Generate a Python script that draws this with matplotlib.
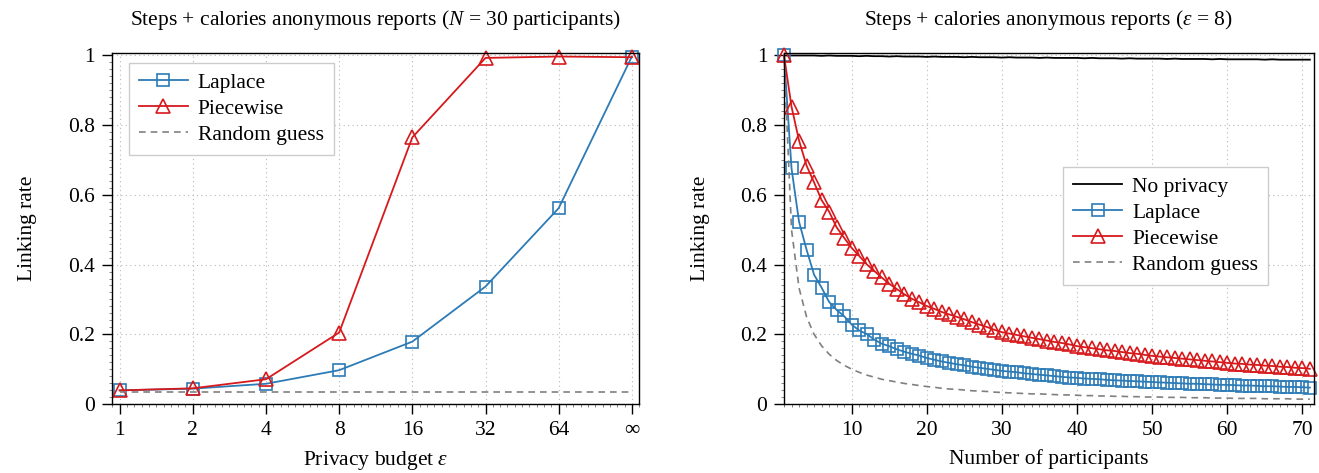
import matplotlib
matplotlib.use("Agg")
import matplotlib.pyplot as plt
from matplotlib.ticker import AutoMinorLocator, FuncFormatter, MultipleLocator

# ---------------------------------------------------------------- data
# izquierda: N = 30, presupuesto de privacidad
eps_labels = ["1", "2", "4", "8", "16", "32", "64", "∞"]
lap_eps = [0.039, 0.044, 0.058, 0.097, 0.179, 0.337, 0.562, 0.997]
pw_eps = [0.039, 0.045, 0.071, 0.205, 0.765, 0.993, 0.997, 0.995]
rand_eps = [0.0333] * 8

# derecha: eps = 8, número de participantes 1..71
n_part = list(range(1, 72))
no_priv = [1.000, 1.000, 1.000, 1.000, 1.000, 0.999, 1.000, 0.999, 0.999, 0.999,
           0.998, 0.999, 0.998, 0.998, 0.997, 0.998, 0.997, 0.997, 0.997, 0.996,
           0.997, 0.996, 0.996, 0.996, 0.995, 0.996, 0.995, 0.995, 0.995, 0.994,
           0.995, 0.994, 0.994, 0.994, 0.993, 0.994, 0.993, 0.993, 0.993, 0.993,
           0.992, 0.993, 0.992, 0.992, 0.992, 0.991, 0.992, 0.991, 0.991, 0.991,
           0.991, 0.990, 0.991, 0.990, 0.990, 0.990, 0.990, 0.989, 0.990, 0.989,
           0.989, 0.989, 0.989, 0.989, 0.988, 0.989, 0.988, 0.988, 0.988, 0.988,
           0.988]
lap_n = [1.000, 0.676, 0.523, 0.443, 0.371, 0.334, 0.293, 0.270, 0.252, 0.228,
         0.211, 0.201, 0.185, 0.173, 0.166, 0.157, 0.150, 0.144, 0.139, 0.132,
         0.127, 0.122, 0.118, 0.114, 0.111, 0.107, 0.104, 0.101, 0.098, 0.095,
         0.093, 0.091, 0.088, 0.086, 0.084, 0.082, 0.080, 0.078, 0.076, 0.075,
         0.073, 0.072, 0.071, 0.069, 0.068, 0.067, 0.066, 0.065, 0.064, 0.063,
         0.062, 0.061, 0.060, 0.059, 0.058, 0.058, 0.057, 0.056, 0.055, 0.055,
         0.054, 0.053, 0.053, 0.052, 0.051, 0.051, 0.050, 0.049, 0.049, 0.048,
         0.047]
pw_n = [1.000, 0.853, 0.756, 0.684, 0.636, 0.585, 0.552, 0.507, 0.477, 0.448,
        0.425, 0.401, 0.382, 0.363, 0.345, 0.330, 0.315, 0.302, 0.292, 0.281,
        0.273, 0.264, 0.257, 0.250, 0.243, 0.235, 0.228, 0.221, 0.213, 0.206,
        0.202, 0.198, 0.194, 0.190, 0.186, 0.182, 0.178, 0.175, 0.171, 0.166,
        0.163, 0.160, 0.157, 0.154, 0.152, 0.149, 0.146, 0.144, 0.141, 0.138,
        0.136, 0.134, 0.132, 0.130, 0.128, 0.126, 0.124, 0.122, 0.120, 0.118,
        0.116, 0.115, 0.113, 0.112, 0.110, 0.109, 0.107, 0.106, 0.104, 0.103,
        0.101]
rand_n = [1.000, 0.500, 0.333, 0.250, 0.200, 0.167, 0.143, 0.125, 0.111, 0.100,
          0.091, 0.083, 0.077, 0.071, 0.067, 0.063, 0.059, 0.056, 0.053, 0.050,
          0.048, 0.045, 0.043, 0.042, 0.040, 0.038, 0.037, 0.036, 0.034, 0.033,
          0.032, 0.031, 0.030, 0.029, 0.029, 0.028, 0.027, 0.026, 0.026, 0.025,
          0.024, 0.024, 0.023, 0.023, 0.022, 0.022, 0.021, 0.021, 0.020, 0.020,
          0.020, 0.019, 0.019, 0.019, 0.018, 0.018, 0.018, 0.017, 0.017, 0.017,
          0.016, 0.016, 0.016, 0.016, 0.015, 0.015, 0.015, 0.015, 0.014, 0.014,
          0.014]

BLUE, RED, GREY = "#2c7bb6", "#d7191c", "#808080"
FS = 15.5

plt.rcParams.update({
    "font.family": ["Liberation Serif", "DejaVu Serif"],
    "font.size": FS,
    "mathtext.fontset": "custom",
    "mathtext.rm": "Liberation Serif",
    "mathtext.it": "Liberation Serif:italic",
    "axes.linewidth": 1.0,
})

mk = dict(mfc="none", mew=1.2, lw=1.3, clip_on=False)


def style_axes(ax):
    ax.grid(True, which="major", ls=(0, (1, 3)), color="#b8b8b8", lw=0.8)
    ax.tick_params(which="major", direction="out", length=7, width=1.0,
                   top=False, right=False, labelsize=FS, pad=5)
    ax.tick_params(which="minor", direction="out", length=2, width=0.5,
                   color="#555555", top=False, right=False)
    ax.yaxis.set_major_locator(MultipleLocator(0.2))
    ax.yaxis.set_minor_locator(AutoMinorLocator(10))
    ax.yaxis.set_major_formatter(FuncFormatter(lambda v, _p: f"{v:g}"))
    ax.set_ylim(0, 1.008)
    ax.set_ylabel("Linking rate", fontsize=FS, labelpad=22)


def legend(ax, anchor):
    lg = ax.legend(loc="upper left", bbox_to_anchor=anchor, borderaxespad=0,
                   fancybox=False, framealpha=1, edgecolor="#cccccc",
                   fontsize=FS, handlelength=2.3, handletextpad=0.45,
                   labelspacing=0.28, borderpad=0.45)
    lg.get_frame().set_linewidth(1.0)
    lg.set_zorder(5)


fig = plt.figure(figsize=(13.19, 4.73), dpi=100)
ax1 = fig.add_axes([0.0846, 0.1459, 0.4000, 0.7427])
ax2 = fig.add_axes([0.5944, 0.1459, 0.4015, 0.7427])

# ---------------------------------------------------------------- izquierda
xi = list(range(len(eps_labels)))
ax1.plot(xi, lap_eps, color=BLUE, marker="s", ms=8, mec=BLUE, label="Laplace", **mk)
ax1.plot(xi, pw_eps, color=RED, marker="^", ms=10, mec=RED, label="Piecewise", **mk)
ax1.plot(xi, rand_eps, color=GREY, ls=(0, (4, 3)), lw=1.2, label="Random guess")
ax1.set_xticks(xi)
ax1.set_xticklabels(eps_labels)
ax1.set_xlim(-0.11, len(xi) - 1 + 0.1)
ax1.xaxis.set_minor_locator(AutoMinorLocator(10))
style_axes(ax1)
ax1.set_xlabel(r"Privacy budget $\varepsilon$", fontsize=FS, labelpad=7)
ax1.set_title(r"Steps + calories anonymous reports ($N$ = 30 participants)",
              fontsize=FS, pad=20)
legend(ax1, (0.033, 0.971))

# ---------------------------------------------------------------- derecha
ax2.plot(n_part, no_priv, color="black", lw=1.3, label="No privacy")
ax2.plot(n_part, lap_n, color=BLUE, marker="s", ms=8, mec=BLUE, label="Laplace", **mk)
ax2.plot(n_part, pw_n, color=RED, marker="^", ms=10, mec=RED, label="Piecewise", **mk)
ax2.plot(n_part, rand_n, color=GREY, ls=(0, (4, 3)), lw=1.2, label="Random guess")
ax2.set_xlim(1, 71.5)
ax2.xaxis.set_major_locator(MultipleLocator(10))
ax2.xaxis.set_minor_locator(MultipleLocator(1))
style_axes(ax2)
ax2.set_xlabel("Number of participants", fontsize=FS, labelpad=7)
ax2.set_title(r"Steps + calories anonymous reports ($\varepsilon$ = 8)",
              fontsize=FS, pad=20)
legend(ax2, (0.527, 0.675))

fig.savefig("out.png", dpi=100)
